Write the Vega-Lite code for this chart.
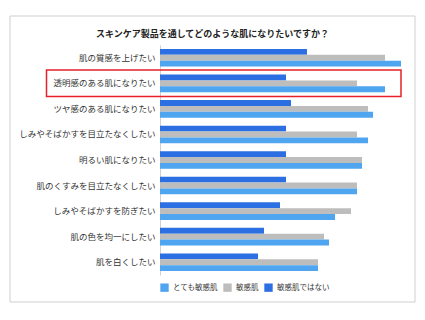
{
  "$schema": "https://vega.github.io/schema/vega-lite/v6.json",
  "width": 241,
  "height": 230,
  "padding": {"left": 9, "top": 15, "right": 10, "bottom": 16},
  "background": "white",
  "title": {
    "text": "スキンケア製品を通してどのような肌になりたいですか？",
    "font": "Noto Sans CJK JP",
    "fontSize": 9,
    "fontWeight": "bold",
    "color": "#222",
    "anchor": "middle",
    "frame": "bounds",
    "offset": -23
  },
  "config": {
    "view": {"stroke": null},
    "font": "Noto Sans CJK JP"
  },
  "datasets": {
    "bars": [
      {"item": "肌の質感を上げたい", "group": "敏感肌ではない", "value": 147},
      {"item": "肌の質感を上げたい", "group": "敏感肌", "value": 225},
      {"item": "肌の質感を上げたい", "group": "とても敏感肌", "value": 241},
      {"item": "透明感のある肌になりたい", "group": "敏感肌ではない", "value": 126},
      {"item": "透明感のある肌になりたい", "group": "敏感肌", "value": 197},
      {"item": "透明感のある肌になりたい", "group": "とても敏感肌", "value": 225},
      {"item": "ツヤ感のある肌になりたい", "group": "敏感肌ではない", "value": 131},
      {"item": "ツヤ感のある肌になりたい", "group": "敏感肌", "value": 208},
      {"item": "ツヤ感のある肌になりたい", "group": "とても敏感肌", "value": 213},
      {"item": "しみやそばかすを目立たなくしたい", "group": "敏感肌ではない", "value": 126},
      {"item": "しみやそばかすを目立たなくしたい", "group": "敏感肌", "value": 197},
      {"item": "しみやそばかすを目立たなくしたい", "group": "とても敏感肌", "value": 208},
      {"item": "明るい肌になりたい", "group": "敏感肌ではない", "value": 126},
      {"item": "明るい肌になりたい", "group": "敏感肌", "value": 202},
      {"item": "明るい肌になりたい", "group": "とても敏感肌", "value": 202},
      {"item": "肌のくすみを目立たなくしたい", "group": "敏感肌ではない", "value": 126},
      {"item": "肌のくすみを目立たなくしたい", "group": "敏感肌", "value": 197},
      {"item": "肌のくすみを目立たなくしたい", "group": "とても敏感肌", "value": 197},
      {"item": "しみやそばかすを防ぎたい", "group": "敏感肌ではない", "value": 120},
      {"item": "しみやそばかすを防ぎたい", "group": "敏感肌", "value": 191},
      {"item": "しみやそばかすを防ぎたい", "group": "とても敏感肌", "value": 175},
      {"item": "肌の色を均一にしたい", "group": "敏感肌ではない", "value": 104},
      {"item": "肌の色を均一にしたい", "group": "敏感肌", "value": 164},
      {"item": "肌の色を均一にしたい", "group": "とても敏感肌", "value": 169},
      {"item": "肌を白くしたい", "group": "敏感肌ではない", "value": 98},
      {"item": "肌を白くしたい", "group": "敏感肌", "value": 158},
      {"item": "肌を白くしたい", "group": "とても敏感肌", "value": 158}
    ],
    "frame": [{"x1": -150, "x2": 255, "y1": -27, "y2": 259}],
    "highlight": [{"x1": -113.5, "x2": 241, "y1": 178.5, "y2": 205}]
  },
  "layer": [
    {
      "data": {"name": "frame"},
      "mark": {"type": "rect", "fill": null, "stroke": "#cfcfcf", "strokeWidth": 1},
      "encoding": {
        "x": {"field": "x1", "type": "quantitative", "scale": {"domain": [0, 241], "nice": false, "zero": false}, "axis": null},
        "x2": {"field": "x2"},
        "y": {"field": "y1", "type": "quantitative", "scale": {"domain": [0, 230], "nice": false, "zero": false}, "axis": null},
        "y2": {"field": "y2"}
      }
    },
    {
      "data": {"name": "bars"},
      "mark": {"type": "bar"},
      "encoding": {
        "y": {
          "field": "item", "type": "nominal", "sort": null,
          "scale": {"paddingInner": 0.31, "paddingOuter": 0.155},
          "axis": {
            "title": null, "ticks": false, "labelFontSize": 8.5, "labelColor": "#333",
            "labelPadding": 5, "domainColor": "#d0d0d0", "labelFont": "Noto Sans CJK JP"
          }
        },
        "yOffset": {
          "field": "group", "type": "nominal",
          "sort": ["敏感肌ではない", "敏感肌", "とても敏感肌"],
          "scale": {"paddingInner": 0, "paddingOuter": 0}
        },
        "x": {"field": "value", "type": "quantitative", "scale": {"domain": [0, 241], "nice": false}, "axis": null},
        "color": {
          "field": "group", "type": "nominal",
          "scale": {"domain": ["とても敏感肌", "敏感肌", "敏感肌ではない"], "range": ["#4fa5f0", "#bdbdbd", "#2c6fe2"]},
          "legend": {
            "title": null, "orient": "bottom", "direction": "horizontal", "symbolType": "square",
            "symbolSize": 70, "symbolStrokeWidth": 0, "labelFontSize": 7.5, "labelColor": "#333",
            "labelFont": "Noto Sans CJK JP", "columnPadding": 5, "labelOffset": 4, "offset": 8
          }
        }
      }
    },
    {
      "data": {"name": "highlight"},
      "mark": {"type": "rect", "fill": null, "stroke": "#e8202a", "strokeWidth": 1.5},
      "encoding": {
        "x": {"field": "x1", "type": "quantitative"},
        "x2": {"field": "x2"},
        "y": {"field": "y1", "type": "quantitative", "scale": {"domain": [0, 230], "nice": false, "zero": false}, "axis": null},
        "y2": {"field": "y2"}
      }
    }
  ],
  "resolve": {"scale": {"y": "independent"}}
}
